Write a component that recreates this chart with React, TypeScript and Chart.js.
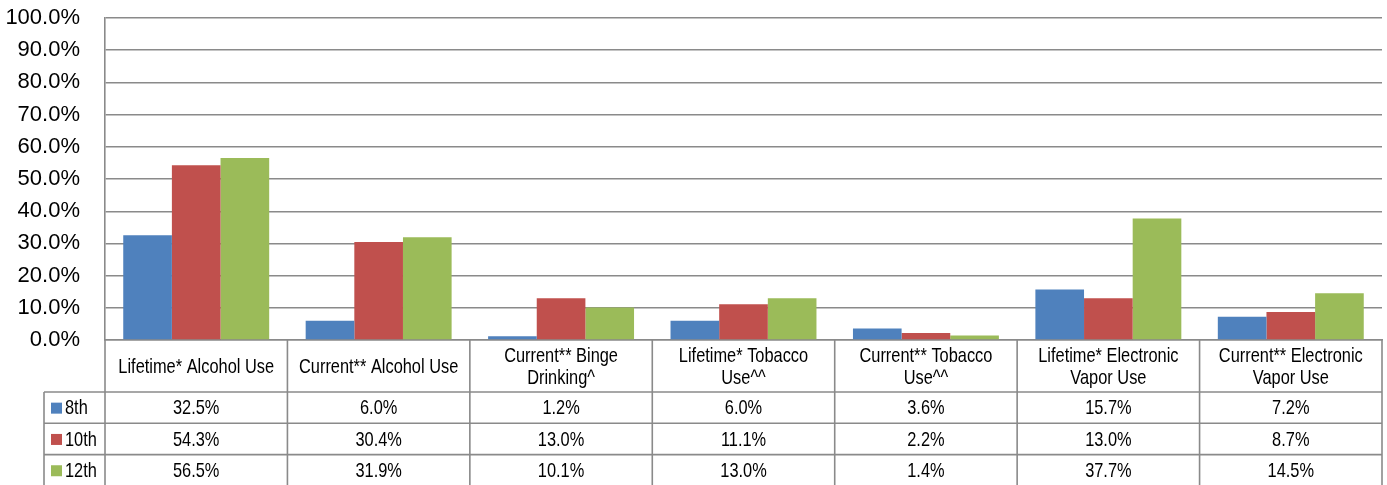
import React, { useEffect, useRef } from "react";
import { Chart, registerables } from "chart.js";

Chart.register(...registerables);

const categories: string[][] = [
  ["Lifetime* Alcohol Use"],
  ["Current** Alcohol Use"],
  ["Current** Binge", "Drinking^"],
  ["Lifetime* Tobacco", "Use^^"],
  ["Current** Tobacco", "Use^^"],
  ["Lifetime* Electronic", "Vapor Use"],
  ["Current** Electronic", "Vapor Use"],
];
const seriesNames = ["8th", "10th", "12th"];
const grade8 = [32.5, 6.0, 1.2, 6.0, 3.6, 15.7, 7.2];
const grade10 = [54.3, 30.4, 13.0, 11.1, 2.2, 13.0, 8.7];
const grade12 = [56.5, 31.9, 10.1, 13.0, 1.4, 37.7, 14.5];
const seriesColors = ["#4F81BD", "#C0504D", "#9BBB59"];
const yTicks = [0, 10, 20, 30, 40, 50, 60, 70, 80, 90, 100];

const LINE = "#8a8a8a";
const REG = "'Liberation Sans', Arial, sans-serif";
const NARROW_SCALE = 0.78;

function narrowText(ctx: CanvasRenderingContext2D, text: string, x: number, y: number, align: CanvasTextAlign) {
  ctx.save();
  ctx.translate(x, y);
  ctx.scale(NARROW_SCALE, 1);
  ctx.textAlign = align;
  ctx.fillText(text, 0, 0);
  ctx.restore();
}

const tablePlugin = {
  id: "dataTable",
  afterDraw(chart: any) {
    const { ctx, chartArea } = chart;
    const xs = chart.scales.x;
    const left = chartArea.left;
    const right = chartArea.right;
    const n = chart.data.labels.length;
    const w = (right - left) / n;
    const tableTop = xs.bottom;
    const rowH = 31.3;
    const bottom = chart.height + 2;
    const legendLeft = 44;
    ctx.save();
    ctx.strokeStyle = LINE;
    ctx.lineWidth = 1.6;
    ctx.beginPath();
    for (let i = 0; i <= n; i++) {
      const x = left + i * w;
      ctx.moveTo(x, chartArea.bottom);
      ctx.lineTo(x, bottom);
    }
    ctx.moveTo(legendLeft, tableTop);
    ctx.lineTo(legendLeft, bottom);
    const nRows = chart.data.datasets.length;
    for (let r = 0; r <= nRows; r++) {
      const y = tableTop + r * rowH;
      ctx.moveTo(legendLeft, y);
      ctx.lineTo(right, y);
    }
    ctx.stroke();

    ctx.font = `21px ${REG}`;
    ctx.fillStyle = "#000";
    ctx.textBaseline = "middle";
    const labelMid = (chartArea.bottom + tableTop) / 2 + 1;
    const lh = 22;
    chart.data.labels.forEach((lab: string[], i: number) => {
      const cx = xs.getPixelForValue(i);
      lab.forEach((line: string, j: number) => {
        narrowText(ctx, line, cx, labelMid + (j - (lab.length - 1) / 2) * lh, "center");
      });
    });
    chart.data.datasets.forEach((ds: any, r: number) => {
      const cy = tableTop + r * rowH + rowH / 2 + 1;
      ctx.fillStyle = ds.backgroundColor;
      ctx.fillRect(51, cy - 6, 11, 11);
      ctx.fillStyle = "#000";
      narrowText(ctx, ds.label, 65, cy, "left");
      ds.data.forEach((v: number, i: number) => {
        const cx = xs.getPixelForValue(i);
        narrowText(ctx, v.toFixed(1) + "%", cx, cy, "center");
      });
    });
    ctx.restore();
  },
};

export default function App() {
  const ref = useRef<HTMLCanvasElement | null>(null);
  useEffect(() => {
    if (!ref.current) return;
    const chart = new Chart(ref.current, {
      type: "bar",
      data: {
        labels: categories,
        datasets: [grade8, grade10, grade12].map((d, i) => ({
          label: seriesNames[i],
          data: d,
          backgroundColor: seriesColors[i],
          borderWidth: 0,
          categoryPercentage: 0.8,
          barPercentage: 1.0,
        })),
      },
      options: {
        animation: false,
        responsive: true,
        maintainAspectRatio: false,
        layout: { padding: { left: 0, right: 5, top: 18, bottom: 93 } },
        plugins: { legend: { display: false }, tooltip: { enabled: false } },
        scales: {
          x: {
            grid: { display: false, drawTicks: false },
            border: { display: true, color: LINE, width: 1.6 },
            ticks: { display: false, autoSkip: false, maxRotation: 0, minRotation: 0 },
            afterFit: (s: any) => {
              s.height = 52;
            },
          },
          y: {
            min: 0,
            max: 100,
            afterBuildTicks: (s: any) => {
              s.ticks = yTicks.map((v) => ({ value: v }));
            },
            grid: { color: LINE, lineWidth: 1.4, drawTicks: true, tickLength: 22, tickColor: "rgba(0,0,0,0)" },
            border: { display: true, color: LINE, width: 1.6 },
            ticks: {
              padding: 3,
              color: "#000",
              font: { family: REG, size: 22 },
              callback: (v: any) => Number(v).toFixed(1) + "%",
            },
            afterFit: (s: any) => {
              s.width = 105;
            },
          },
        },
      },
      plugins: [tablePlugin],
    });
    return () => chart.destroy();
  }, []);
  return (
    <div style={{ position: "fixed", left: 0, top: 0, width: 1387, height: 485, background: "#fff" }}>
      <canvas ref={ref} />
    </div>
  );
}
